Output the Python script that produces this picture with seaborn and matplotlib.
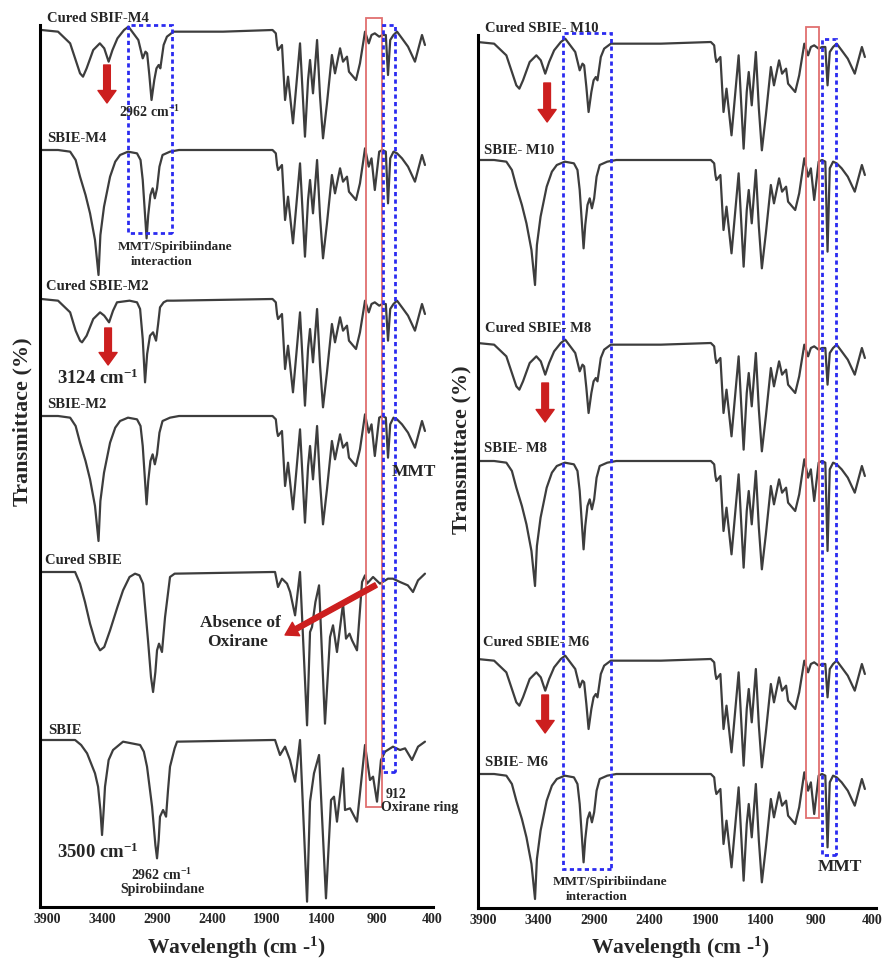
import pandas as pd
import matplotlib
matplotlib.use('Agg')
import matplotlib.pyplot as plt
import seaborn as sns
from matplotlib.patches import Rectangle

# ---- spectra (wavenumber in cm-1, transmittance in % of baseline) ----
# cured SBIE/MMT composites, 3950-1850 cm-1
cured_mmt_hi_w = [3950, 3800, 3690, 3640, 3600, 3573, 3540, 3480, 3420, 3380, 3340, 3305, 3260, 3200, 3160,
                  3115, 3070, 3030, 3005, 2990, 2970, 2950, 2925, 2905, 2885, 2870, 2840, 2810, 2750, 2300, 1850]
cured_mmt_hi_t = [100, 99, 92, 82, 74, 72, 77, 88, 92, 89, 81, 88, 95, 100, 102,
                  98, 94, 83, 87, 86, 73, 58, 70, 77, 79, 77, 91, 96, 99, 99, 100]

# cured SBIE-M2 differs a little in the C-H region
cured_m2_hi_w = [3950, 3800, 3690, 3640, 3600, 3582, 3540, 3480, 3418, 3380, 3336, 3300, 3264, 3150,
                 3082, 3054, 3030, 3009, 2990, 2964, 2936, 2909, 2890, 2873, 2840, 2810, 2750, 1850]
cured_m2_hi_t = [100, 99, 92, 81, 75, 74, 78, 88, 92, 90, 86, 93, 98, 99,
                 98, 94, 76, 50, 67, 78, 80, 75, 85, 95, 98, 99, 99, 100]

# uncured SBIE/MMT composites
mmt_hi_w = [3950, 3800, 3690, 3640, 3600, 3550, 3509, 3464, 3432, 3415, 3382, 3327, 3280, 3236, 3164,
            3082, 3050, 3030, 3012, 2995, 2980, 2960, 2940, 2920, 2900, 2878, 2850, 2782, 2700, 1850]
mmt_hi_t = [100, 100, 99, 94, 84, 73, 62, 46, 25, 49, 66, 84, 93, 97, 99,
            98, 94, 82, 64, 47, 61, 73, 77, 71, 77, 90, 97, 99, 100, 100]

# fingerprint region of the composites (MMT band at 800 cm-1 given per sample)
fp_w = [1820, 1809, 1800, 1764, 1736, 1709, 1664, 1600, 1555, 1527, 1509, 1482, 1445, 1418, 1391, 1355,
        1310, 1282, 1236, 1209, 1173, 1155, 1091, 1055, 1009, 975, 950, 920, 880, 850, 820, 780, 750,
        718, 673, 618, 555, 527, 491, 464]
cured_mmt_fp_t = [98, 91, 88, 91, 58, 72, 44, 92, 36, 70, 82, 62, 94, 60, 35, 56,
                  85, 74, 89, 81, 84, 75, 70, 80, 99, 92, 97, 98, 96, 97, 97, 94, 97,
                  99, 95, 90, 81, 88, 97, 91]
mmt_fp_t = [98, 91, 88, 91, 58, 72, 44, 92, 36, 70, 82, 62, 94, 60, 35, 56,
            85, 74, 89, 81, 84, 75, 70, 80, 101, 90, 95, 76, 99, 100, 99, 95, 99,
            98, 95, 90, 81, 88, 97, 91]

# neat SBIE
sbie_hi_w = [3950, 3645, 3590, 3536, 3464, 3436, 3415, 3400, 3385, 3373, 3340, 3300, 3209, 3054,
             3020, 2991, 2945, 2915, 2900, 2885, 2873, 2845, 2818, 2800, 2782, 2740, 2718, 1850]
sbie_hi_t = [100, 100, 97, 92, 80, 72, 58, 43, 58, 72, 88, 94, 99, 97,
             93, 84, 60, 37, 29, 40, 54, 58, 54, 70, 84, 95, 99, 100]
sbie_fp_w = [1827, 1782, 1736, 1691, 1645, 1600, 1536, 1509, 1473, 1427, 1364, 1318, 1291, 1264, 1209,
             1191, 1145, 1082, 1009, 964, 936, 900, 864, 827, 755, 691, 645, 582, 527, 464]
sbie_fp_t = [100, 91, 96, 88, 75, 100, 3, 63, 80, 91, 5, 64, 66, 51, 83,
             58, 59, 51, 97, 76, 78, 63, 88, 93, 96, 94, 95, 88, 96, 99]

cured_sbie_hi_w = [3950, 3645, 3600, 3555, 3509, 3460, 3418, 3380, 3327, 3260, 3209, 3150, 3100,
                   3060, 3027, 2982, 2955, 2936, 2915, 2900, 2882, 2855, 2827, 2782, 2740, 1850]
cured_sbie_hi_t = [100, 100, 93, 82, 69, 58, 53, 55, 65, 79, 89, 97, 99,
                   98, 93, 59, 37, 28, 40, 53, 57, 52, 73, 97, 99, 100]
cured_sbie_fp_w = [1827, 1800, 1764, 1718, 1690, 1645, 1600, 1536, 1509, 1491, 1460, 1427, 1373,
                   1327, 1300, 1264, 1209, 1182, 1150, 1127, 1082, 1036, 1009, 991, 936, 873,
                   800, 755, 691, 620, 573, 527, 464]
cured_sbie_fp_t = [100, 91, 96, 93, 88, 74, 100, 8, 64, 67, 82, 92, 9,
                   61, 68, 52, 81, 60, 63, 59, 53, 94, 98, 93, 97, 93,
                   96, 96, 94, 92, 88, 95, 99]

# MMT band (800 cm-1) transmittance per sample
left_names = ['Cured SBIF-M4', 'SBIE-M4', 'Cured SBIE-M2', 'SBIE-M2', 'Cured SBIE', 'SBIE']
left_mmt = [73, 68, 75, 75, None, None]
right_names = ['Cured SBIE- M10', 'SBIE- M10', 'Cured SBIE- M8', 'SBIE- M8', 'Cured SBIE- M6', 'SBIE- M6']
right_mmt = [74, 45, 75, 46, 77, 56]

hi_sets = {
    'cured_mmt': (cured_mmt_hi_w, cured_mmt_hi_t),
    'cured_m2': (cured_m2_hi_w, cured_m2_hi_t),
    'mmt': (mmt_hi_w, mmt_hi_t),
    'sbie': (sbie_hi_w, sbie_hi_t),
    'cured_sbie': (cured_sbie_hi_w, cured_sbie_hi_t),
}
fp_sets = {
    'cured_mmt': (fp_w, cured_mmt_fp_t),
    'mmt': (fp_w, mmt_fp_t),
    'sbie': (sbie_fp_w, sbie_fp_t),
    'cured_sbie': (cured_sbie_fp_w, cured_sbie_fp_t),
}
left_kinds = [('cured_mmt', 'cured_mmt'), ('mmt', 'mmt'), ('cured_m2', 'cured_mmt'),
              ('mmt', 'mmt'), ('cured_sbie', 'cured_sbie'), ('sbie', 'sbie')]
right_kinds = [('cured_mmt', 'cured_mmt'), ('mmt', 'mmt')] * 3


def spectrum(hi, fp, mmt):
    w = list(hi_sets[hi][0]) + list(fp_sets[fp][0])
    t = list(hi_sets[hi][1]) + list(fp_sets[fp][1])
    if mmt is not None:
        w.append(800)
        t.append(mmt)
    return pd.DataFrame({'wavenumber': w, 'T': t}).sort_values('wavenumber')


# ---- style ----
sns.set_theme(style='white')
plt.rcParams['font.family'] = ['Liberation Serif', 'DejaVu Serif']
plt.rcParams['font.weight'] = 'bold'
plt.rcParams['mathtext.fontset'] = 'custom'
plt.rcParams['mathtext.rm'] = 'Liberation Serif'
plt.rcParams['mathtext.bf'] = 'Liberation Serif:bold'
plt.rcParams['mathtext.default'] = 'bf'

LINE = '#3d3d3d'
RED = '#cc1f1f'
BOX_RED = '#e07070'
BLUE = '#2b2bf0'
PX = 0.6  # % transmittance per pixel of depth

fig = plt.figure(figsize=(8.82, 9.64), dpi=100)
axL = fig.add_axes([40 / 882, 57 / 964, 393 / 882, 882 / 964])
axR = fig.add_axes([478 / 882, 56 / 964, 398 / 882, 873 / 964])

left_offsets = [877, 757, 608, 491, 335, 167]
right_offsets = [866, 748, 565, 447, 249, 134]

for ax, kinds, mmts, offs in [(axL, left_kinds, left_mmt, left_offsets),
                              (axR, right_kinds, right_mmt, right_offsets)]:
    for (hi, fp), mmt, off in zip(kinds, mmts, offs):
        df = spectrum(hi, fp, mmt)
        df['y'] = off - (100 - df['T']) / PX
        sns.lineplot(data=df, x='wavenumber', y='y', ax=ax, color=LINE, lw=1.6,
                     estimator=None, sort=False)

axL.set_xlim(3964, 391)
axL.set_ylim(0, 882)
axR.set_xlim(3945, 364)
axR.set_ylim(0, 873)

for ax in (axL, axR):
    ax.set_xticks([3900, 3400, 2900, 2400, 1900, 1400, 900, 400])
    ax.set_xticklabels(['3900', '3400', '2900', '2400', '1900', '1400', '900', '400'],
                       fontsize=10, fontweight='bold')
    ax.tick_params(axis='x', length=0, pad=4)
    ax.set_yticks([])
    ax.set_xlabel('')
    ax.set_ylabel('')
    for s in ('top', 'right'):
        ax.spines[s].set_visible(False)
    for s in ('left', 'bottom'):
        ax.spines[s].set_color('black')
        ax.spines[s].set_linewidth(2.2)
    ax.set_facecolor('none')


def box(ax, w1, w2, y1, y2, color, ls, lw):
    ax.add_patch(Rectangle((w2, y1), w1 - w2, y2 - y1, fill=False, edgecolor=color,
                           linestyle=ls, lw=lw, clip_on=False, zorder=3))


def down_arrow(ax, w, y0, y1, hw=0.65, tw=0.24):
    ax.annotate('', xy=(w, y1), xytext=(w, y0), annotation_clip=False,
                arrowprops=dict(arrowstyle=f'simple,head_length=0.45,head_width={hw},tail_width={tw}',
                                color=RED, mutation_scale=20, shrinkA=0, shrinkB=0))


dots = (0, (1.5, 1.2))
# left panel marks
box(axL, 1000, 855, 100, 889, BOX_RED, '-', 1.3)
box(axL, 3164, 2764, 674, 882, BLUE, dots, 2)
box(axL, 845, 736, 135, 882, BLUE, dots, 2)
down_arrow(axL, 3355, 842, 804)
down_arrow(axL, 3345, 579, 542)
axL.annotate('', xy=(1736, 272), xytext=(909, 322), annotation_clip=False,
             arrowprops=dict(arrowstyle='simple,head_length=0.45,head_width=0.55,tail_width=0.18',
                             color=RED, mutation_scale=20, shrinkA=0, shrinkB=0))

# right panel marks
box(axR, 990, 873, 90, 881, BOX_RED, '-', 1.3)
box(axR, 3180, 2747, 39, 875, BLUE, dots, 2)
box(axR, 846, 720, 53, 869, BLUE, dots, 2)
down_arrow(axR, 3323, 825, 786)
down_arrow(axR, 3341, 525, 486)
down_arrow(axR, 3341, 213, 175)

# sample labels
left_label_pos = [(3900, 889), (3900, 769), (3909, 620), (3900, 502), (3918, 346), (3891, 177)]
right_label_pos = [(3882, 879), (3891, 758), (3882, 580), (3891, 459), (3900, 265), (3882, 145)]
for ax, names, pos in [(axL, left_names, left_label_pos), (axR, right_names, right_label_pos)]:
    for name, (x, y) in zip(names, pos):
        ax.text(x, y, name, fontsize=10.5, fontweight='bold', ha='left', va='center', zorder=4)

tkw = dict(fontweight='bold', va='center', zorder=4)
axL.text(3245, 795, '2962 cm$^{-1}$', fontsize=10, ha='left', **tkw)
axL.text(2736, 660, 'MMT/Spiribiindane', fontsize=9.5, ha='center', **tkw)
axL.text(2855, 645, 'interaction', fontsize=9.5, ha='center', **tkw)
axL.text(3809, 529, '3124 cm$^{-1}$', fontsize=13.5, ha='left', **tkw)
axL.text(763, 435, 'MMT', fontsize=12.5, ha='left', **tkw)
axL.text(2145, 284, 'Absence of', fontsize=12.5, ha='center', **tkw)
axL.text(2164, 265, 'Oxirane', fontsize=12.5, ha='center', **tkw)
axL.text(3809, 55, '3500 cm$^{-1}$', fontsize=13.5, ha='left', **tkw)
axL.text(2855, 32, '2962 cm$^{-1}$', fontsize=10, ha='center', **tkw)
axL.text(2855, 18, 'Spirobiindane', fontsize=10, ha='center', **tkw)
axL.text(818, 112, '912', fontsize=10, ha='left', **tkw)
axL.text(864, 99, 'Oxirane ring', fontsize=10, ha='left', **tkw)

axR.text(2757, 26, 'MMT/Spiribiindane', fontsize=9.5, ha='center', **tkw)
axR.text(2874, 11, 'interaction', fontsize=9.5, ha='center', **tkw)
axR.text(687, 41, 'MMT', fontsize=12.5, ha='center', **tkw)

# axis titles
fig.text(22 / 882, 1 - 422 / 964, 'Transmittace (%)', rotation=90, fontsize=16,
         fontweight='bold', ha='center', va='center')
fig.text(461 / 882, 1 - 450 / 964, 'Transmittace (%)', rotation=90, fontsize=16,
         fontweight='bold', ha='center', va='center')
fig.text(236 / 882, 1 - 948 / 964, 'Wavelength (cm -$^{1}$)', fontsize=15.5,
         fontweight='bold', ha='center', va='center')
fig.text(680 / 882, 1 - 948 / 964, 'Wavelength (cm -$^{1}$)', fontsize=15.5,
         fontweight='bold', ha='center', va='center')

fig.savefig('out.png', dpi=100, facecolor='white')
